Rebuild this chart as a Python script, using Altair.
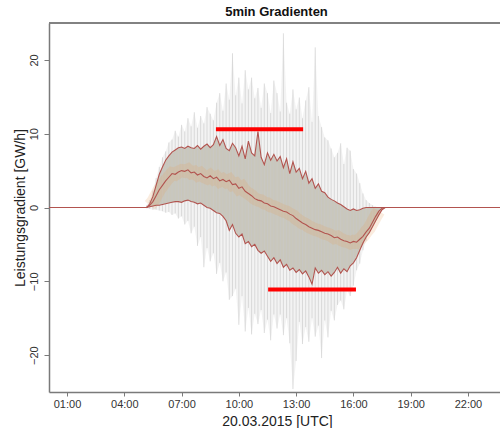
import altair as alt
import pandas as pd

# ---- data (10-min steps, GW/h) ----
times = ["00:00",
         "05:10", "05:20", "05:30", "05:40", "05:50",
         "06:00", "06:10", "06:20", "06:30", "06:40", "06:50",
         "07:00", "07:10", "07:20", "07:30", "07:40", "07:50",
         "08:00", "08:10", "08:20", "08:30", "08:40", "08:50",
         "09:00", "09:10", "09:20", "09:30", "09:40", "09:50",
         "10:00", "10:10", "10:20", "10:30", "10:40", "10:50",
         "11:00", "11:10", "11:20", "11:30", "11:40", "11:50",
         "12:00", "12:10", "12:20", "12:30", "12:40", "12:50",
         "13:00", "13:10", "13:20", "13:30", "13:40", "13:50",
         "14:00", "14:10", "14:20", "14:30", "14:40", "14:50",
         "15:00", "15:10", "15:20", "15:30", "15:40", "15:50",
         "16:00", "16:10", "16:20", "16:30", "16:40", "16:50",
         "17:00", "17:10", "17:20", "17:30", "17:40",
         "24:00"]

q_hi = [0,
        0, 0.5, 1.5, 3.0, 4.5,
        5.5, 6.4, 7.0, 7.5, 7.8, 8.1,
        8.2, 8.0, 8.3, 8.1, 8.0, 8.4,
        7.9, 8.3, 8.6, 8.1, 8.5, 9.6,
        8.4, 9.2, 8.0, 7.7, 8.7, 8.1,
        7.0, 8.3, 6.6, 9.0, 7.4, 7.0,
        10.3, 6.8, 5.8, 7.4, 6.4, 7.2,
        6.3, 6.9, 5.4, 6.6, 4.6, 6.2,
        4.8, 5.3, 3.9, 4.9, 3.3, 3.9,
        2.6, 3.2, 2.2, 2.0, 1.4, 1.1,
        0.9, 0.6, 0.4, 0.1, -0.2, -0.4,
        -0.2, -0.4, -0.3, -0.1, 0.0, 0.0,
        0, 0, 0, 0, 0,
        0]

q_med = [0,
         0, 0.3, 0.8, 1.6, 2.4,
         3.0, 3.6, 4.1, 4.6, 4.5, 4.8,
         5.0, 4.9, 5.1, 4.7, 4.8, 4.4,
         4.6, 4.2, 4.0, 4.3, 3.9, 4.1,
         3.6, 3.8, 3.5, 3.7, 3.1, 3.2,
         2.6, 2.8, 2.2, 1.9, 1.6, 1.2,
         1.0, 0.9, 0.6, 0.5, 0.2, 0.1,
         -0.1, -0.3, -0.5, -0.6, -0.9, -1.1,
         -1.5, -1.8, -2.1, -2.3, -2.6, -2.8,
         -3.0, -3.1, -3.3, -3.5, -3.6, -3.8,
         -4.1, -4.0, -4.3, -4.5, -4.6, -4.8,
         -4.6, -4.7, -4.3, -3.9, -3.3, -2.8,
         -2.0, -1.2, -0.5, -0.1, 0,
         0]

q_lo = [0,
        0, 0.1, 0.2, 0.3, 0.3,
        0.4, 0.5, 0.6, 0.7, 0.8, 0.8,
        0.7, 0.9, 1.0, 0.8, 0.7, 0.5,
        0.6, 0.3, 0.0, -0.1, -0.4, -0.7,
        -0.8, -1.2, -1.8, -3.1, -2.3, -3.5,
        -4.0, -3.6, -4.9, -4.6, -5.3, -5.0,
        -5.8, -6.2, -5.9, -6.6, -7.3, -6.8,
        -7.6, -7.1, -8.1, -7.7, -8.5, -8.2,
        -8.8, -8.4, -9.0, -8.6, -9.4, -10.4,
        -8.2, -8.9, -8.5, -9.1, -8.7, -9.3,
        -8.8, -8.1, -8.9, -8.3, -8.7, -7.9,
        -7.5, -6.8, -5.8, -4.8, -4.0, -3.4,
        -2.6, -1.8, -1.0, -0.3, 0,
        0]

env_hi = [0,
          0.3, 1.0, 2.3, 4.0, 5.5,
          6.8, 7.6, 8.8, 9.2, 10.4, 9.6,
          11.2, 10.3, 12.1, 11.0, 12.9, 10.8,
          12.4, 11.4, 13.6, 12.7, 11.8, 14.2,
          15.5, 13.1, 16.8, 14.6, 20.9, 15.2,
          17.6, 14.1, 18.6, 16.0, 17.6, 14.8,
          16.2, 13.5, 16.8, 15.5, 12.8, 17.2,
          15.5, 13.0, 23.6, 14.2, 12.7, 16.0,
          13.3, 14.9, 12.1, 14.5, 16.3, 11.6,
          21.7, 12.4, 10.9, 9.5, 9.1, 8.0,
          6.8, 7.4, 8.7, 5.9, 8.1, 7.7,
          5.2, 4.6, 3.3, 1.9, 1.0, 0.6,
          0.3, 0.1, 0.0, 0.0, 0,
          0]

env_lo = [0,
          -0.1, -0.2, -0.3, -0.3, -0.4,
          -0.5, -0.7, -0.6, -1.0, -0.8, -1.5,
          -1.2, -2.3, -1.8, -3.5, -2.6, -5.2,
          -4.0, -8.1, -5.5, -7.3, -6.2, -9.0,
          -7.5, -10.0, -8.8, -12.5, -12.0, -11.0,
          -15.9, -12.0, -16.8, -13.6, -17.2, -14.4,
          -15.8, -13.9, -17.0, -15.2, -18.0, -14.5,
          -16.4, -14.5, -17.3, -15.0, -18.4, -24.6,
          -20.8, -15.5, -18.5, -16.2, -18.2, -15.0,
          -17.5, -16.0, -20.4, -15.3, -17.6, -14.0,
          -15.3, -13.2, -12.6, -13.8, -11.3, -12.0,
          -10.6, -8.5, -7.6, -5.8, -4.5, -3.1,
          -2.2, -1.2, -0.5, -0.1, 0,
          0]

tick_hours = [1, 4, 7, 10, 13, 16, 19, 22]
y_ticks = [-20, -10, 0, 10, 20]

seg_start = ["08:48", "11:32"]
seg_end = ["13:22", "16:08"]
seg_val = [10.6, -11.1]


def to_h(s):
    h, m = s.split(":")
    return int(h) + int(m) / 60.0


df = pd.DataFrame({
    "t": [to_h(s) for s in times],
    "hi": q_hi, "med": q_med, "lo": q_lo,
    "emax": env_hi, "emin": env_lo,
})
seg = pd.DataFrame({
    "s": [to_h(s) for s in seg_start],
    "e": [to_h(s) for s in seg_end],
    "v": seg_val,
})

W, H = 451, 369
FONT = "Liberation Sans"
LINE_COL = "#b2544f"

xscale = alt.Scale(domain=[0.057, 23.677], nice=False, zero=False)
yscale = alt.Scale(domain=[-25, 25], nice=False, zero=False)

x_axis = alt.Axis(
    values=tick_hours,
    labelExpr="(datum.value < 10 ? '0' : '') + datum.value + ':00'",
    title="20.03.2015 [UTC]", titleFontSize=14, titleFontWeight="normal",
    titleX=228, titleY=33, titleBaseline="alphabetic",
    tickSize=4, labelPadding=2, labelFontSize=11, grid=False,
)
y_axis = alt.Axis(
    values=y_ticks, labelAngle=270, labelAlign="center", labelBaseline="bottom",
    tickSize=5, labelPadding=5, labelFontSize=11, grid=False,
    title="Leistungsgradient [GW/h]", titleFontSize=14, titleFontWeight="normal",
    titleAngle=270, titleX=-22, titleY=H / 2, titleAlign="center",
    titleBaseline="bottom",
)

base = alt.Chart(df)
day = base.transform_filter((alt.datum.t > 5) & (alt.datum.t < 18))
X = alt.X("t:Q", scale=xscale, axis=x_axis, title="20.03.2015 [UTC]")


def Y(col):
    return alt.Y(f"{col}:Q", scale=yscale, axis=y_axis,
                 title="Leistungsgradient [GW/h]")


cloud_fill = day.mark_area(color="#d8d8d8", opacity=0.3, clip=True).encode(
    x=X, y=Y("emin"), y2="emax:Q")

fan = day.mark_area(color="#b8b5a6", opacity=0.72, clip=True).encode(
    x=X, y=Y("lo"), y2="hi:Q")

cloud_rules = day.mark_rule(color="#c8c8c8", strokeWidth=1.0, opacity=0.6,
                            clip=True).encode(
    x=X, y=Y("emin"), y2="emax:Q")

glow = base.transform_filter(
    (alt.datum.t > 5.3) & (alt.datum.t < 17.5)
).mark_line(color="#e8a060", strokeWidth=13, opacity=0.2, clip=True).encode(
    x=X, y=Y("med"))

hi_line = day.mark_line(color=LINE_COL, strokeWidth=1.1, clip=True).encode(
    x=X, y=Y("hi"))
lo_line = day.mark_line(color=LINE_COL, strokeWidth=1.1, clip=True).encode(
    x=X, y=Y("lo"))
med_line = base.mark_line(color=LINE_COL, strokeWidth=1.1, clip=True).encode(
    x=X, y=Y("med"))

segments = alt.Chart(seg).mark_rule(color="#ff0000", strokeWidth=4,
                                    strokeCap="butt").encode(
    x=alt.X("s:Q", scale=xscale, axis=x_axis, title="20.03.2015 [UTC]"),
    x2="e:Q",
    y=Y("v"))

top_border = alt.Chart(seg).mark_rule(color="#7a7a7a", strokeWidth=1.5).encode(
    x=alt.value(0), x2=alt.value(W), y=alt.value(0))

chart = alt.layer(
    cloud_fill, fan, cloud_rules, glow,
    hi_line, lo_line,
    segments, top_border, med_line,
).properties(
    width=W, height=H,
    title=alt.TitleParams("5min Gradienten", fontSize=13, font=FONT,
                          fontWeight="bold", anchor="middle", offset=3, dx=2,
                          color="#111111"),
    padding={"left": 49, "top": 23, "right": 0, "bottom": 36},
    autosize=alt.AutoSizeParams(type="none"),
).configure_view(stroke=None).configure_axis(
    domainColor="#7a7a7a", domainWidth=1.5, tickColor="#7a7a7a", tickWidth=1,
    labelFont=FONT, titleFont=FONT, labelColor="#333333", titleColor="#222222",
)

chart.save("out.html", embed_options={"renderer": "svg", "actions": False})
